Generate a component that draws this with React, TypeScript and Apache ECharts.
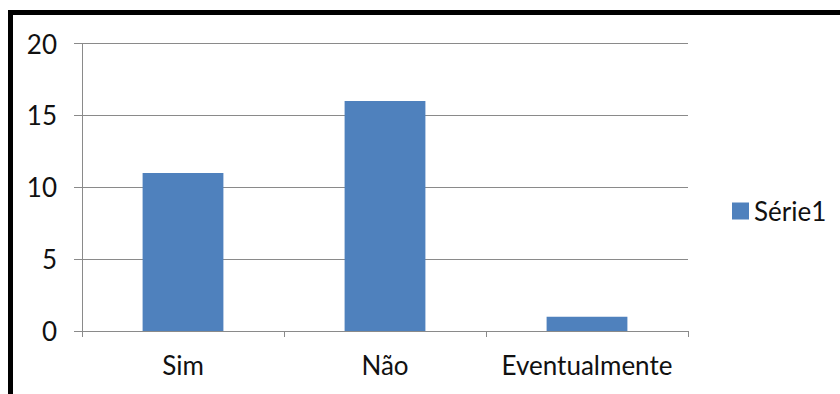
import React, { useEffect, useRef } from "react";
import * as echarts from "echarts";

const categories = ["Sim", "Não", "Eventualmente"];
const serie1 = [11, 16, 1];
const seriesName = "Série1";
const yTicks = { min: 0, max: 20, interval: 5 };

const FONT = "Lato";
const FONT_SIZE = 26;
const GRID_COLOR = "#8a8a8a";
const BAR_COLOR = "#4f81bd";

export default function App() {
  const ref = useRef<HTMLDivElement>(null);

  useEffect(() => {
    if (!ref.current) return;
    const chart = echarts.init(ref.current, undefined, { renderer: "svg" });
    chart.setOption({
      animation: false,
      backgroundColor: "#ffffff",
      textStyle: { fontFamily: FONT },
      graphic: [
        { type: "rect", shape: { x: 8, y: 10, width: 840, height: 5 }, style: { fill: "#000" } },
        { type: "rect", shape: { x: 8, y: 10, width: 5, height: 400 }, style: { fill: "#000" } },
      ],
      legend: {
        left: 732,
        top: 198,
        orient: "vertical",
        itemWidth: 17,
        itemHeight: 17,
        itemGap: 6,
        icon: "rect",
        padding: 0,
        textStyle: { fontFamily: FONT, fontSize: FONT_SIZE, color: "#111" },
        data: [seriesName],
      },
      grid: { left: 82, right: 152, top: 43.5, bottom: 63, containLabel: false },
      xAxis: {
        type: "category",
        data: categories,
        boundaryGap: true,
        axisLine: { show: true, lineStyle: { color: GRID_COLOR, width: 1 } },
        axisTick: { show: true, length: 6, alignWithLabel: false, lineStyle: { color: GRID_COLOR } },
        axisLabel: { interval: 0, margin: 21, fontFamily: FONT, fontSize: FONT_SIZE, color: "#111" },
        splitLine: { show: false },
      },
      yAxis: {
        type: "value",
        min: yTicks.min,
        max: yTicks.max,
        interval: yTicks.interval,
        axisLine: { show: true, lineStyle: { color: GRID_COLOR, width: 1 } },
        axisTick: { show: true, length: 8, lineStyle: { color: GRID_COLOR } },
        axisLabel: { margin: 25, fontFamily: FONT, fontSize: FONT_SIZE, color: "#111" },
        splitLine: { show: true, lineStyle: { color: GRID_COLOR, width: 1 } },
      },
      series: [
        {
          name: seriesName,
          type: "bar",
          data: serie1,
          barWidth: "40%",
          itemStyle: { color: BAR_COLOR },
        },
      ],
    });
    return () => chart.dispose();
  }, []);

  return (
    <div
      ref={ref}
      style={{ position: "fixed", left: 0, top: 0, width: 840, height: 394 }}
    />
  );
}
